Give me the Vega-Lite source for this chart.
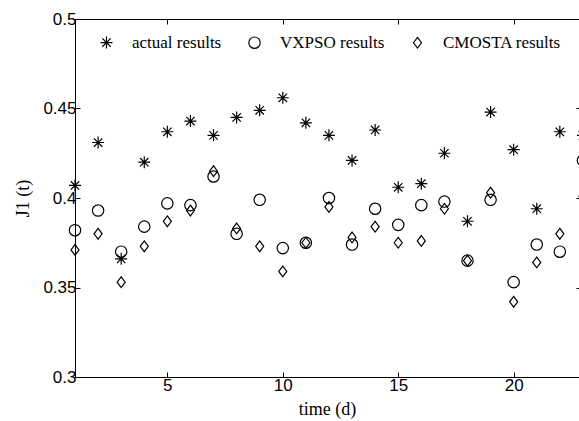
{
  "$schema": "https://vega.github.io/schema/vega-lite/v6.json",
  "width": 504,
  "height": 358,
  "autosize": {"type": "none"},
  "padding": {"left": 75, "top": 19, "right": 0, "bottom": 44},
  "background": "white",
  "config": {
    "view": {"stroke": null},
    "axis": {"labelFont": "Liberation Sans", "labelFontSize": 17, "labelColor": "black", "titleFont": "Liberation Serif", "titleFontSize": 18, "titleFontWeight": "normal", "titleColor": "black", "domainColor": "black", "tickColor": "black", "grid": false}
  },
  "data": {"values": [
    {"day": 1, "series": "actual results", "value": 0.407},
    {"day": 2, "series": "actual results", "value": 0.431},
    {"day": 3, "series": "actual results", "value": 0.366},
    {"day": 4, "series": "actual results", "value": 0.420},
    {"day": 5, "series": "actual results", "value": 0.437},
    {"day": 6, "series": "actual results", "value": 0.443},
    {"day": 7, "series": "actual results", "value": 0.435},
    {"day": 8, "series": "actual results", "value": 0.445},
    {"day": 9, "series": "actual results", "value": 0.449},
    {"day": 10, "series": "actual results", "value": 0.456},
    {"day": 11, "series": "actual results", "value": 0.442},
    {"day": 12, "series": "actual results", "value": 0.435},
    {"day": 13, "series": "actual results", "value": 0.421},
    {"day": 14, "series": "actual results", "value": 0.438},
    {"day": 15, "series": "actual results", "value": 0.406},
    {"day": 16, "series": "actual results", "value": 0.408},
    {"day": 17, "series": "actual results", "value": 0.425},
    {"day": 18, "series": "actual results", "value": 0.387},
    {"day": 19, "series": "actual results", "value": 0.448},
    {"day": 20, "series": "actual results", "value": 0.427},
    {"day": 21, "series": "actual results", "value": 0.394},
    {"day": 22, "series": "actual results", "value": 0.437},
    {"day": 23, "series": "actual results", "value": 0.435},
    {"day": 1, "series": "VXPSO results", "value": 0.382},
    {"day": 2, "series": "VXPSO results", "value": 0.393},
    {"day": 3, "series": "VXPSO results", "value": 0.370},
    {"day": 4, "series": "VXPSO results", "value": 0.384},
    {"day": 5, "series": "VXPSO results", "value": 0.397},
    {"day": 6, "series": "VXPSO results", "value": 0.396},
    {"day": 7, "series": "VXPSO results", "value": 0.412},
    {"day": 8, "series": "VXPSO results", "value": 0.380},
    {"day": 9, "series": "VXPSO results", "value": 0.399},
    {"day": 10, "series": "VXPSO results", "value": 0.372},
    {"day": 11, "series": "VXPSO results", "value": 0.375},
    {"day": 12, "series": "VXPSO results", "value": 0.400},
    {"day": 13, "series": "VXPSO results", "value": 0.374},
    {"day": 14, "series": "VXPSO results", "value": 0.394},
    {"day": 15, "series": "VXPSO results", "value": 0.385},
    {"day": 16, "series": "VXPSO results", "value": 0.396},
    {"day": 17, "series": "VXPSO results", "value": 0.398},
    {"day": 18, "series": "VXPSO results", "value": 0.365},
    {"day": 19, "series": "VXPSO results", "value": 0.399},
    {"day": 20, "series": "VXPSO results", "value": 0.353},
    {"day": 21, "series": "VXPSO results", "value": 0.374},
    {"day": 22, "series": "VXPSO results", "value": 0.370},
    {"day": 23, "series": "VXPSO results", "value": 0.421},
    {"day": 1, "series": "CMOSTA results", "value": 0.371},
    {"day": 2, "series": "CMOSTA results", "value": 0.380},
    {"day": 3, "series": "CMOSTA results", "value": 0.353},
    {"day": 4, "series": "CMOSTA results", "value": 0.373},
    {"day": 5, "series": "CMOSTA results", "value": 0.387},
    {"day": 6, "series": "CMOSTA results", "value": 0.393},
    {"day": 7, "series": "CMOSTA results", "value": 0.415},
    {"day": 8, "series": "CMOSTA results", "value": 0.383},
    {"day": 9, "series": "CMOSTA results", "value": 0.373},
    {"day": 10, "series": "CMOSTA results", "value": 0.359},
    {"day": 11, "series": "CMOSTA results", "value": 0.375},
    {"day": 12, "series": "CMOSTA results", "value": 0.395},
    {"day": 13, "series": "CMOSTA results", "value": 0.378},
    {"day": 14, "series": "CMOSTA results", "value": 0.384},
    {"day": 15, "series": "CMOSTA results", "value": 0.375},
    {"day": 16, "series": "CMOSTA results", "value": 0.376},
    {"day": 17, "series": "CMOSTA results", "value": 0.394},
    {"day": 18, "series": "CMOSTA results", "value": 0.365},
    {"day": 19, "series": "CMOSTA results", "value": 0.403},
    {"day": 20, "series": "CMOSTA results", "value": 0.342},
    {"day": 21, "series": "CMOSTA results", "value": 0.364},
    {"day": 22, "series": "CMOSTA results", "value": 0.380},
    {"day": 23, "series": "CMOSTA results", "value": 0.401}
  ]},
  "layer": [
    {
      "mark": {"type": "point", "filled": false, "stroke": "black", "strokeWidth": 1.2, "clip": false, "opacity": 1},
      "encoding": {
        "x": {"field": "day", "type": "quantitative", "scale": {"domain": [1, 22.83], "nice": false, "zero": false},
              "axis": {"title": "time (d)", "values": [5, 10, 15, 20], "tickSize": -5, "labelPadding": 5, "titlePadding": 7, "domainWidth": 1}},
        "y": {"field": "value", "type": "quantitative", "scale": {"domain": [0.3, 0.5], "nice": false, "zero": false},
              "axis": {"title": "J1 (t)", "values": [0.3, 0.35, 0.4, 0.45, 0.5], "format": "~g", "tickSize": -5, "labelPadding": 4, "titlePadding": 10}},
        "shape": {"field": "series", "type": "nominal",
                  "scale": {"domain": ["actual results", "VXPSO results", "CMOSTA results"],
                            "range": ["M0,-1L0,1M-1,0L1,0M-0.7,-0.7L0.7,0.7M-0.7,0.7L0.7,-0.7", "circle", "M0,-1L0.75,0L0,1L-0.75,0Z"]},
                  "legend": {"title": null, "orient": "none", "legendX": 23, "legendY": 15, "direction": "horizontal", "columns": 3,
                             "labelFont": "Liberation Serif", "labelFontSize": 17, "labelColor": "black", "labelOffset": 17, "columnPadding": 24,
                             "symbolStrokeColor": "black", "symbolStrokeWidth": 1.2, "symbolFillColor": "transparent", "symbolOpacity": 1}},
        "size": {"field": "series", "type": "nominal",
                 "scale": {"domain": ["actual results", "VXPSO results", "CMOSTA results"], "range": [144, 115, 215]},
                 "legend": {"title": null, "orient": "none", "legendX": 23, "legendY": 15, "direction": "horizontal", "columns": 3,
                            "labelFont": "Liberation Serif", "labelFontSize": 17, "labelColor": "black", "labelOffset": 17, "columnPadding": 24,
                            "symbolStrokeColor": "black", "symbolStrokeWidth": 1.2, "symbolFillColor": "transparent", "symbolOpacity": 1}}
      }
    },
    {
      "mark": {"type": "point", "opacity": 0},
      "encoding": {
        "x": {"field": "day", "type": "quantitative", "axis": {"orient": "top", "title": null, "labels": false, "values": [5, 10, 15, 20], "tickSize": -5}},
        "y": {"field": "value", "type": "quantitative", "axis": {"orient": "right", "title": null, "labels": false, "domain": false, "values": [0.35, 0.4, 0.45], "tickSize": -3}}
      }
    }
  ],
  "resolve": {"axis": {"x": "independent", "y": "independent"}}
}
